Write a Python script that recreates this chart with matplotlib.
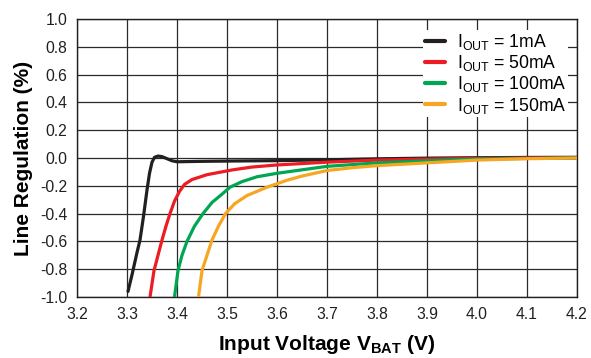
import matplotlib
matplotlib.use('Agg')
import matplotlib.pyplot as plt

plt.rcParams['font.family'] = ['Liberation Sans', 'DejaVu Sans']
plt.rcParams['mathtext.fontset'] = 'custom'
plt.rcParams['mathtext.rm'] = 'Liberation Sans'
plt.rcParams['mathtext.bf'] = 'Liberation Sans:bold'

# line regulation curves, one per load current
x_1ma = [3.302, 3.31, 3.32, 3.326, 3.333, 3.34, 3.345, 3.35, 3.355, 3.362, 3.37, 3.38, 3.39, 3.40,
         3.45, 3.5, 3.6, 3.7, 3.8, 3.9, 4.0, 4.1, 4.2]
y_1ma = [-0.96, -0.84, -0.68, -0.59, -0.42, -0.23, -0.11, -0.03, 0.005, 0.014, 0.01, -0.005, -0.02, -0.027,
         -0.024, -0.022, -0.019, -0.013, -0.006, -0.001, 0.002, 0.004, 0.005]

x_50ma = [3.346, 3.354, 3.362, 3.37, 3.378, 3.386, 3.395, 3.405, 3.415, 3.43, 3.46, 3.51, 3.55, 3.6,
          3.65, 3.7, 3.8, 3.9, 4.0, 4.1, 4.2]
y_50ma = [-1.0, -0.81, -0.70, -0.59, -0.49, -0.40, -0.31, -0.24, -0.19, -0.155, -0.12, -0.086, -0.065, -0.05,
          -0.04, -0.03, -0.015, -0.008, -0.003, 0.0, 0.0]

x_100ma = [3.395, 3.402, 3.41, 3.42, 3.435, 3.452, 3.47, 3.49, 3.506, 3.53, 3.56, 3.6, 3.65, 3.7,
           3.8, 3.9, 4.0, 4.1, 4.2]
y_100ma = [-1.0, -0.81, -0.70, -0.60, -0.49, -0.40, -0.32, -0.26, -0.21, -0.17, -0.135, -0.11, -0.085, -0.06,
           -0.035, -0.02, -0.008, -0.003, 0.0]

x_150ma = [3.443, 3.45, 3.46, 3.47, 3.483, 3.497, 3.515, 3.54, 3.58, 3.62, 3.65, 3.7, 3.75, 3.8,
           3.9, 4.0, 4.1, 4.2]
y_150ma = [-1.0, -0.81, -0.70, -0.59, -0.49, -0.40, -0.33, -0.27, -0.21, -0.16, -0.13, -0.09, -0.07, -0.055,
           -0.035, -0.015, -0.005, 0.0]

labels = [r'I$_{\mathrm{OUT}}$ = 1mA', r'I$_{\mathrm{OUT}}$ = 50mA',
          r'I$_{\mathrm{OUT}}$ = 100mA', r'I$_{\mathrm{OUT}}$ = 150mA']
colors = ['#231f20', '#ed1c24', '#00a651', '#f6a623']

xticks = [3.2, 3.3, 3.4, 3.5, 3.6, 3.7, 3.8, 3.9, 4.0, 4.1, 4.2]
yticks = [1.0, 0.8, 0.6, 0.4, 0.2, 0.0, -0.2, -0.4, -0.6, -0.8, -1.0]

fig = plt.figure(figsize=(5.91, 3.58), dpi=100)
ax = fig.add_axes([0.1303, 0.1704, 0.8460, 0.7765])

series = [(x_1ma, y_1ma), (x_50ma, y_50ma), (x_100ma, y_100ma), (x_150ma, y_150ma)]
for (xs, ys), c, lab in zip(series, colors, labels):
    ax.plot(xs, ys, color=c, lw=2.3, label=lab, solid_capstyle='round', zorder=3)

ax.set_xlim(3.2, 4.2)
ax.set_ylim(-1.0, 1.0)
ax.set_xticks(xticks)
ax.set_yticks(yticks)
ax.set_xticklabels(['%.1f' % v for v in xticks])
ax.set_yticklabels(['%.1f' % v for v in yticks])
ax.tick_params(length=0, labelsize=11.3, pad=7, colors='#231f20')
ax.grid(True, color='#2a2a2a', lw=0.9)
for s in ax.spines.values():
    s.set_color('#231f20')
    s.set_linewidth(1.0)

ax.set_xlabel(r'Input Voltage V$_{\mathbf{BAT}}$ (V)', fontsize=15, fontweight='bold', labelpad=8)
ax.set_ylabel('Line Regulation (%)', fontsize=15, fontweight='bold', labelpad=5)

leg = ax.legend(loc='upper right', bbox_to_anchor=(0.982, 0.96), borderaxespad=0, fontsize=12.7,
                frameon=True, fancybox=False, framealpha=1, edgecolor='none', handlelength=1.15,
                handletextpad=0.65, labelspacing=0.07, borderpad=0.1)
for h in leg.get_lines():
    h.set_linewidth(3)

fig.savefig('out.png', dpi=100)
